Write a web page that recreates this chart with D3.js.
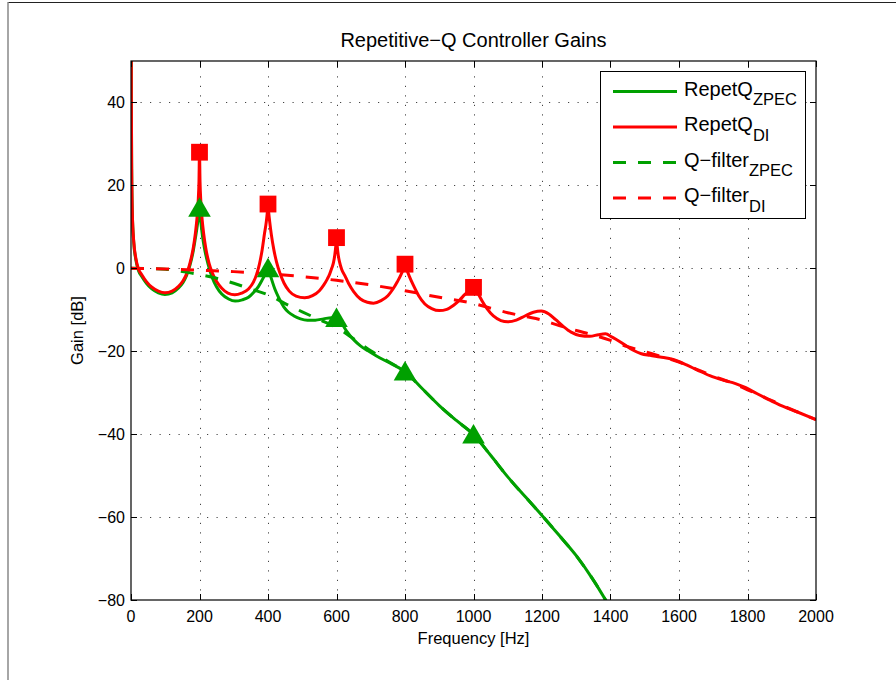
<!DOCTYPE html>
<html>
<head>
<meta charset="utf-8">
<script src="https://cdn.jsdelivr.net/npm/d3@7"></script>
<style>
  body { margin: 0; background: #fff; }
  svg { display: block; }
  text { font-family: "Liberation Sans", Arial, Helvetica, sans-serif; fill: #000; }
</style>
</head>
<body>
<svg id="chart" width="896" height="680"></svg>
<script>
// ---- data: [frequency Hz, gain dB] ----
const repetZpec = [
  [0.3,80],[1,42],[2,24],[4,13],[8,6.2],[14,2.1],[22,-0.6],[31,-1.9],[45,-3.6],[60,-4.9],
  [80,-5.9],[99,-6.3],[120,-5.9],[138,-4.8],[152,-3.4],[162,-1.8],[172,0.7],[182,4.3],[188,7.3],
  [192,9.4],[196,11.8],[200,14.6],[204,11.2],[209,7.6],[215,4.6],[225,1.0],[237,-2.2],[250,-4.5],
  [265,-6.2],[285,-7.4],[304,-7.9],[325,-7.6],[343,-7.0],[358,-5.8],[372,-4.4],[383,-2.8],
  [391,-1.5],[396,-0.6],[400,0.0],[405,-1.2],[411,-2.8],[420,-5.0],[432,-7.2],[446,-9.3],
  [460,-10.6],[476,-11.5],[495,-12.2],[515,-12.5],[538,-12.5],[562,-12.2],[585,-11.9],[600,-12.0],
  [615,-13.3],[630,-15.2],[650,-17.2],[670,-18.7],[692,-19.9],[718,-21.2],[750,-22.6],[780,-23.9],
  [800,-24.9],[850,-29.0],[900,-33.1],[950,-36.7],[1000,-40.1],[1050,-45.1],[1100,-50.3],
  [1150,-55.0],[1200,-59.6],[1250,-64.4],[1300,-69.3],[1350,-75.2],[1400,-82]
];
const repetDi = [
  [0.3,80],[1,42],[2,24],[4,13],[8,6.5],[14,2.5],[22,-0.2],[31,-1.5],[45,-3.2],[60,-4.5],
  [80,-5.5],[99,-5.9],[120,-5.5],[138,-4.4],[152,-3.0],[162,-1.4],[172,1.2],[182,5.0],[188,8.5],
  [192,11.5],[196,16],[198.5,21],[200,28.0],[201.5,21],[204,16],[208,11.5],[212,8.5],[218,5.0],
  [228,1.2],[237,-1.0],[250,-3.2],[265,-4.8],[283,-6.0],[303,-6.4],[323,-6.0],[343,-5.0],
  [357,-3.4],[367,-1.4],[375,1.0],[383,4.5],[390,8.5],[395,11.2],[398,13.5],[400,15.5],
  [402,13.5],[405,11.2],[410,8.0],[417,4.5],[425,1.5],[435,-1.2],[447,-3.6],[462,-5.5],
  [482,-6.7],[507,-7.1],[530,-6.6],[550,-5.4],[563,-4.0],[573,-2.6],[580,-1.4],[586,0.0],
  [591,1.3],[595,3.2],[598,5.4],[600,7.4],[602,5.4],[605,3.2],[609,1.5],[615,-0.2],[624,-1.7],
  [635,-3.6],[650,-5.6],[670,-7.4],[690,-8.2],[708,-8.4],[730,-7.8],[750,-6.6],[765,-5.0],
  [778,-3.2],[788,-1.6],[795,-0.2],[800,1.0],[805,-0.3],[813,-2.0],[825,-4.2],[840,-6.6],
  [858,-8.6],[878,-9.7],[900,-10.2],[922,-9.9],[942,-8.9],[960,-7.6],[975,-6.3],[987,-5.4],
  [995,-4.8],[1000,-4.6],[1005,-5.0],[1014,-6.2],[1026,-8.0],[1040,-9.8],[1058,-11.5],
  [1080,-12.6],[1100,-12.9],[1125,-12.5],[1150,-11.5],[1175,-10.6],[1198,-10.3],[1220,-11.0],
  [1240,-12.4],[1262,-14.0],[1285,-15.4],[1310,-16.2],[1340,-16.4],[1365,-16.0],[1385,-15.8],
  [1405,-16.6],[1437,-18.2],[1465,-19.7],[1490,-20.6],[1515,-21.0],[1545,-21.4],[1583,-22.0],
  [1622,-23.3],[1655,-24.6],[1690,-25.9],[1730,-27.0],[1765,-27.8],[1795,-28.8],[1827,-30.2],
  [1860,-31.6],[1895,-33.0],[1944,-34.6],[2000,-36.5]
];
const qFilterZpec = [
  [0,0],[50,-0.05],[100,-0.2],[150,-0.8],[200,-1.5],[250,-2.4],[300,-3.6],[350,-5.0],[400,-6.4],
  [450,-8.5],[500,-10.5],[550,-12.4],[600,-14.3],[650,-17.0],[700,-19.9],[750,-22.4],[800,-25.0],
  [850,-29.0],[900,-33.1],[950,-36.7],[1000,-40.1],[1050,-45.1],[1100,-50.3],[1150,-55.0],
  [1200,-59.6],[1250,-64.4],[1300,-69.3],[1350,-75.2],[1400,-82]
];
const qFilterDi = [
  [0,0],[100,-0.15],[200,-0.45],[300,-0.8],[400,-1.3],[500,-2.0],[600,-2.9],[700,-4.0],
  [800,-5.4],[900,-7.0],[1000,-8.5],[1050,-9.6],[1100,-10.7],[1150,-11.6],[1200,-12.5],
  [1250,-13.8],[1300,-15.0],[1350,-16.1],[1400,-17.4],[1450,-18.9],[1500,-20.1],[1550,-21.3],
  [1600,-22.6],[1650,-24.3],[1700,-26.0],[1750,-27.5],[1800,-29.3],[1850,-31.1],[1900,-33.0],
  [1950,-34.8],[2000,-36.5]
];
// markers at the harmonic frequencies
const harmonicFreq = [200, 400, 600, 800, 1000];
const zpecPeakGain = [14.6, 0.0, -12.0, -24.9, -40.1];
const diPeakGain   = [28.0, 15.5, 7.4, 1.0, -4.6];

const xTicks = [0,200,400,600,800,1000,1200,1400,1600,1800,2000];
const yTicks = [-80,-60,-40,-20,0,20,40];

const GREEN = "#00a000", RED = "#ff0000";
const seriesList = [
  { name: "RepetQ",   sub: "ZPEC", data: repetZpec,   color: GREEN, dash: null },
  { name: "RepetQ",   sub: "DI",   data: repetDi,     color: RED,   dash: null },
  { name: "Q\u2212filter", sub: "ZPEC", data: qFilterZpec, color: GREEN, dash: "13,12" },
  { name: "Q\u2212filter", sub: "DI",   data: qFilterDi,   color: RED,   dash: "13,12" }
];

// ---- layout ----
const svg = d3.select("#chart");
const L = 131, R = 816, T = 61, B = 600;
const x = d3.scaleLinear().domain([0, 2000]).range([L, R]);
const y = d3.scaleLinear().domain([-80, 50]).range([B, T]);

// figure frame
svg.append("line").attr("x1", 8).attr("x2", 896).attr("y1", 2.5).attr("y2", 2.5)
  .attr("stroke", "#222").attr("stroke-width", 1);
svg.append("line").attr("x1", 8).attr("x2", 8).attr("y1", 2).attr("y2", 680)
  .attr("stroke", "#888").attr("stroke-width", 1.5);

// grid (dotted)
const grid = svg.append("g").attr("stroke", "#444").attr("stroke-width", 1)
  .attr("stroke-dasharray", "1.2,8.3");
grid.selectAll(".gx").data(xTicks.filter(t => t > 0 && t < 2000)).join("line")
  .attr("x1", d => Math.round(x(d)) + 0.5).attr("x2", d => Math.round(x(d)) + 0.5)
  .attr("y1", B).attr("y2", T);
grid.selectAll(".gy").data(yTicks.filter(t => t > -80)).join("line")
  .attr("x1", L).attr("x2", R)
  .attr("y1", d => Math.round(y(d)) + 0.5).attr("y2", d => Math.round(y(d)) + 0.5);

// curves
svg.append("clipPath").attr("id", "plotClip").append("rect")
  .attr("x", L).attr("y", T).attr("width", R - L).attr("height", B - T);
const line = d3.line().x(d => x(d[0])).y(d => y(d[1])).curve(d3.curveMonotoneX);
const plot = svg.append("g").attr("clip-path", "url(#plotClip)");
seriesList.forEach(s => {
  plot.append("path").datum(s.data)
    .attr("d", line)
    .attr("fill", "none")
    .attr("stroke", s.color)
    .attr("stroke-width", 3)
    .attr("stroke-linejoin", "round")
    .attr("stroke-dasharray", s.dash);
});

// markers
const tri = d3.symbol().type(d3.symbolTriangle);
plot.selectAll(".tri").data(harmonicFreq.map((f, i) => [f, zpecPeakGain[i]])).join("path")
  .attr("d", "M0,-10.5L11.3,9L-11.3,9Z")
  .attr("transform", d => `translate(${x(d[0])},${y(d[1])})`)
  .attr("fill", GREEN);
plot.selectAll(".sq").data(harmonicFreq.map((f, i) => [f, diPeakGain[i]])).join("rect")
  .attr("x", d => x(d[0]) - 8.4).attr("y", d => y(d[1]) - 8.4)
  .attr("width", 16.8).attr("height", 16.8)
  .attr("fill", RED);

// axes box
svg.append("rect").attr("x", L).attr("y", T).attr("width", R - L).attr("height", B - T)
  .attr("fill", "none").attr("stroke", "#000").attr("stroke-width", 1.2);

// inward ticks on all four sides
const tk = svg.append("g").attr("stroke", "#000").attr("stroke-width", 1);
xTicks.forEach(t => {
  const px = Math.round(x(t)) + 0.5;
  tk.append("line").attr("x1", px).attr("x2", px).attr("y1", B).attr("y2", B - 6);
  tk.append("line").attr("x1", px).attr("x2", px).attr("y1", T).attr("y2", T + 6);
});
yTicks.forEach(t => {
  const py = Math.round(y(t)) + 0.5;
  tk.append("line").attr("x1", L).attr("x2", L + 6).attr("y1", py).attr("y2", py);
  tk.append("line").attr("x1", R).attr("x2", R - 6).attr("y1", py).attr("y2", py);
});

// tick labels
const fmt = v => (v < 0 ? "\u2212" + Math.abs(v) : String(v));
svg.append("g").selectAll("text").data(xTicks).join("text")
  .attr("x", d => x(d)).attr("y", 622).attr("text-anchor", "middle")
  .attr("font-size", 16).text(fmt);
svg.append("g").selectAll("text").data(yTicks).join("text")
  .attr("x", 125).attr("y", d => y(d) + 5.6).attr("text-anchor", "end")
  .attr("font-size", 16).text(fmt);

// axis labels and title
svg.append("text").attr("x", (L + R) / 2).attr("y", 644).attr("text-anchor", "middle")
  .attr("font-size", 16.5).text("Frequency [Hz]");
svg.append("text").attr("transform", `translate(83,${(T + B) / 2}) rotate(-90)`)
  .attr("text-anchor", "middle").attr("font-size", 16.5).text("Gain [dB]");
svg.append("text").attr("x", (L + R) / 2).attr("y", 47).attr("text-anchor", "middle")
  .attr("font-size", 20).text("Repetitive\u2212Q Controller Gains");

// legend
const lg = svg.append("g");
lg.append("rect").attr("x", 600.5).attr("y", 71.5).attr("width", 205).attr("height", 147)
  .attr("fill", "#fff").attr("stroke", "#000").attr("stroke-width", 1);
const rowY = [91.5, 127, 162.5, 198];
seriesList.forEach((s, i) => {
  const ry = rowY[i];
  lg.append("line").attr("x1", 613).attr("x2", 677).attr("y1", ry).attr("y2", ry)
    .attr("stroke", s.color).attr("stroke-width", 3).attr("stroke-dasharray", s.dash);
  const t = lg.append("text").attr("x", 684).attr("y", ry + 4.3).attr("font-size", 20);
  t.append("tspan").text(s.name);
  t.append("tspan").attr("dy", 9.3).attr("font-size", 16.5).text(s.sub);
});
</script>
</body>
</html>
